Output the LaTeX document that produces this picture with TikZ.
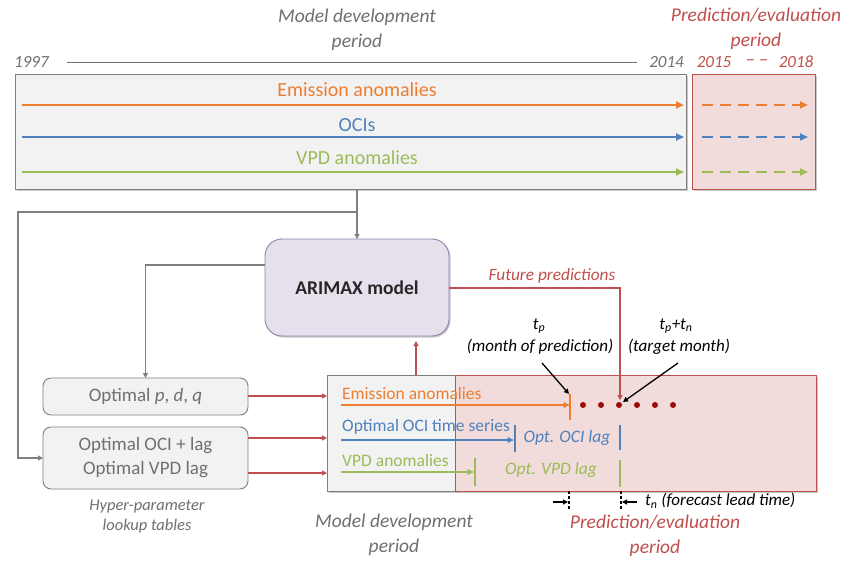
\documentclass[tikz,border=0pt]{standalone}
\usepackage{fontspec}
\setmainfont{Carlito}
\usetikzlibrary{arrows.meta,shadows,calc}
\definecolor{cOrange}{HTML}{ED7D31}
\definecolor{cBlue}{HTML}{4F81BD}
\definecolor{cGreen}{HTML}{9BBB59}
\definecolor{cRed}{HTML}{C0504D}
\definecolor{cRedFill}{HTML}{F2DCDB}
\definecolor{cGrayFill}{HTML}{F2F2F2}
\definecolor{cGrayLine}{HTML}{808080}
\definecolor{cGrayText}{HTML}{707070}
\definecolor{cLav}{HTML}{E6E0EC}
\definecolor{cLavLine}{HTML}{8C84AC}
\definecolor{cDot}{HTML}{9B0A0A}
\tikzset{
  shadowed/.style={drop shadow={opacity=0.3,shadow xshift=1.5pt,shadow yshift=-1.5pt,fill=black!70}},
  panel/.style={draw=cGrayLine,fill=cGrayFill,line width=0.9pt,inner sep=0pt,outer sep=0pt,anchor=north west,shadowed},
  redpanel/.style={draw=cRed,fill=cRedFill,line width=0.9pt,inner sep=0pt,outer sep=0pt,anchor=north west,shadowed},
  lookbox/.style={draw=cGrayLine,fill=cGrayFill,line width=0.9pt,rounded corners=8pt,inner sep=0pt,outer sep=0pt,anchor=north west,minimum width=205pt,text=cGrayText,font=\fontsize{19}{24}\selectfont,align=center},
  ttl/.style={font=\fontsize{19.5}{25}\selectfont\itshape,align=center,inner sep=0pt},
  yr/.style={font=\fontsize{17}{20}\selectfont\itshape,inner sep=0pt},
  toplab/.style={font=\fontsize{20}{24}\selectfont,inner sep=0pt},
  botlab/.style={font=\fontsize{17.5}{21}\selectfont,inner sep=0pt,anchor=west},
  laglab/.style={font=\fontsize{17.5}{21}\selectfont\itshape,inner sep=0pt},
  blk/.style={font=\fontsize{17}{20}\selectfont\itshape,inner sep=0pt,text=black},
  bigtip/.style={-{Triangle[length=8pt,width=7pt]}},
  midtip/.style={-{Triangle[length=6.5pt,width=5.5pt]}},
  smalltip/.style={-{Triangle[length=5pt,width=5pt]}},
  topline/.style={line width=2.2pt,bigtip},
  topdash/.style={line width=2.2pt,dash pattern=on 11pt off 7pt,bigtip},
  botline/.style={line width=1.8pt,midtip},
  gconn/.style={draw=cGrayLine,line width=1.3pt,smalltip},
  rconn/.style={draw=cRed,line width=1.3pt,smalltip},
  bconn/.style={draw=black,line width=1.3pt,smalltip},
  tick/.style={line width=1.3pt},
  dotn/.style={circle,fill=cDot,inner sep=0pt,minimum size=6pt}
}
\begin{document}
\begin{tikzpicture}[x=1pt,y=-1pt]
\useasboundingbox[fill=white] (0,0) rectangle (851,560);

% ---------- top titles ----------
\node[ttl,text=cGrayText] (mdTop) at (357,30) {Model development\\period};
\node[ttl,text=cRed] (peTop) at (756,29) {Prediction/evaluation\\period};
\node[yr,text=cGrayText,anchor=west] (y1997) at (14,62) {1997};
\node[yr,text=cGrayText,anchor=east] (y2014) at (684,62) {2014};
\coordinate (tlS) at (67,62);
\coordinate (tlE) at (637,62);
\draw[cGrayText,line width=0.9pt] (tlS) -- (tlE);
\node[yr,text=cRed] (y2015) at (714,62) {2015};
\node[yr,text=cRed,font=\fontsize{19}{20}\selectfont\itshape] (ydash) at (757,63) {\textendash\hspace{4pt}\textendash};
\node[yr,text=cRed] (y2018) at (796,62) {2018};

% ---------- top boxes ----------
\node[panel,minimum width=671pt,minimum height=115pt] (topbox) at (15,74) {};
\node[redpanel,minimum width=123pt,minimum height=115pt] (topred) at (692,74) {};

\coordinate (eS) at (22,105);  \coordinate (eE) at (684,105);
\coordinate (oS) at (22,137);  \coordinate (oE) at (684,137);
\coordinate (vS) at (22,172);  \coordinate (vE) at (684,172);
\draw[topline,cOrange] (eS) -- (eE);
\draw[topline,cBlue] (oS) -- (oE);
\draw[topline,cGreen] (vS) -- (vE);
\node[toplab,text=cOrange] (eLab) at (357,90) {Emission anomalies};
\node[toplab,text=cBlue] (oLab) at (357,125) {OCIs};
\node[toplab,text=cGreen] (vLab) at (357,158) {VPD anomalies};

\coordinate (edS) at (702,105); \coordinate (edE) at (808,105);
\coordinate (odS) at (702,137); \coordinate (odE) at (808,137);
\coordinate (vdS) at (702,172); \coordinate (vdE) at (808,172);
\draw[topdash,cOrange] (edS) -- (edE);
\draw[topdash,cBlue] (odS) -- (odE);
\draw[topdash,cGreen] (vdS) -- (vdE);

% ---------- ARIMAX ----------
\node[draw=cLavLine,fill=cLav,line width=0.9pt,rounded corners=17pt,inner sep=0pt,outer sep=0pt,
      anchor=north west,minimum width=184pt,minimum height=97pt,shadowed,
      font=\fontsize{19.5}{24}\selectfont\bfseries,text=black!85] (arimax) at (265,239) {ARIMAX model};

% ---------- lookup boxes ----------
\node[lookbox,minimum height=37pt] (pdq) at (43,378) {Optimal \textit{p}, \textit{d}, \textit{q}};
\node[lookbox,minimum height=62pt] (ocibox) at (43,427) {Optimal OCI + lag\\Optimal VPD lag};
\node[font=\fontsize{16.5}{20}\selectfont\itshape,text=cGrayText,align=center,inner sep=0pt] (hyper) at (147,517) {Hyper-parameter\\lookup tables};

% ---------- bottom boxes ----------
\node[panel,minimum width=130pt,minimum height=116pt] (devbox) at (327,375) {};
\node[redpanel,minimum width=361pt,minimum height=116pt] (predbox) at (455,375) {};

% bottom arrows
\coordinate (beS) at (341,405); \coordinate (beE) at (570,405);
\coordinate (boS) at (341,440); \coordinate (boE) at (514,440);
\coordinate (bvS) at (341,472); \coordinate (bvE) at (474,472);
\draw[botline,cOrange] (beS) -- (beE);
\draw[botline,cBlue] (boS) -- (boE);
\draw[botline,cGreen] (bvS) -- (bvE);
\node[botlab,text=cOrange] (beLab) at (342,393) {Emission anomalies};
\node[botlab,text=cBlue] (boLab) at (342,427) {Optimal OCI time series};
\node[botlab,text=cGreen] (bvLab) at (342,460) {VPD anomalies};

% ticks
\draw[tick,cOrange] (570,394) -- (570,420);
\draw[tick,cBlue] (515,425) -- (515,452);
\draw[tick,cBlue] (620,425) -- (620,450);
\draw[tick,cGreen] (475,458) -- (475,486);
\draw[tick,cGreen] (620,460) -- (620,487);
\node[laglab,text=cBlue] (ociLag) at (567,438) {Opt. OCI lag};
\node[laglab,text=cGreen] (vpdLag) at (551,470) {Opt. VPD lag};

% dots
\foreach \i/\x in {1/583,2/601,3/619,4/637,5/655,6/673}
  \node[dotn] (dot\i) at (\x,405) {};

% ---------- connectors ----------
\coordinate (j1) at (358,212);
\coordinate (lft) at (18,212);
\draw[gconn] (topbox.south -| arimax.north) -- (arimax.north);
\draw[gconn] (j1) -- (lft) |- (ocibox.west);
\coordinate (aL) at (265,265);
\draw[gconn] (aL) -| (pdq.north);

\coordinate (r1) at (248,396);
\coordinate (r2) at (248,438);
\coordinate (r3) at (248,473);
\draw[rconn] (r1) -- (r1 -| devbox.west);
\draw[rconn] (r2) -- (r2 -| devbox.west);
\draw[rconn] (r3) -- (r3 -| devbox.west);

\coordinate (upS) at (416,375);
\draw[rconn,shorten >=5pt] (upS) -- (upS |- arimax.south);

\coordinate (fpS) at (449,288);
\coordinate (fpE) at (620,400);
\draw[rconn] (fpS) -| (fpE);
\node[font=\fontsize{17.3}{20}\selectfont\itshape,text=cRed,inner sep=0pt] (fpLab) at (552,276) {Future predictions};

% t_p and t_p+t_n labels
\node[blk] (tp) at (539,326) {\textit{t}\textsubscript{\textit{p}}};
\node[blk] (mop) at (540,347) {(month of prediction)};
\node[blk] (tptn) at (676,326) {\textit{t}\textsubscript{\textit{p}}+\textit{t}\textsubscript{\textit{n}}};
\node[blk] (tgm) at (679,347) {(target month)};
\coordinate (a1S) at (542,363); \coordinate (a1E) at (569,394);
\coordinate (a2S) at (678,363); \coordinate (a2E) at (623,402);
\draw[bconn] (a1S) -- (a1E);
\draw[bconn] (a2S) -- (a2E);

% lead time
\draw[black,line width=1.1pt,dash pattern=on 3pt off 2pt] (569,491) -- (569,510);
\draw[black,line width=1.1pt,dash pattern=on 3pt off 2pt] (621,491) -- (621,510);
\coordinate (l1S) at (553,502); \coordinate (l1E) at (568,502);
\coordinate (l2S) at (637,502); \coordinate (l2E) at (622,502);
\draw[bconn] (l1S) -- (l1E);
\draw[bconn] (l2S) -- (l2E);
\node[blk,anchor=west] (tn) at (645,501) {\textit{t}\textsubscript{\textit{n}} (\textit{forecast lead time})};

% bottom titles
\node[ttl,text=cGrayText] (mdBot) at (394,535) {Model development\\period};
\node[ttl,text=cRed] (peBot) at (655,536) {Prediction/evaluation\\period};
\end{tikzpicture}
\end{document}
